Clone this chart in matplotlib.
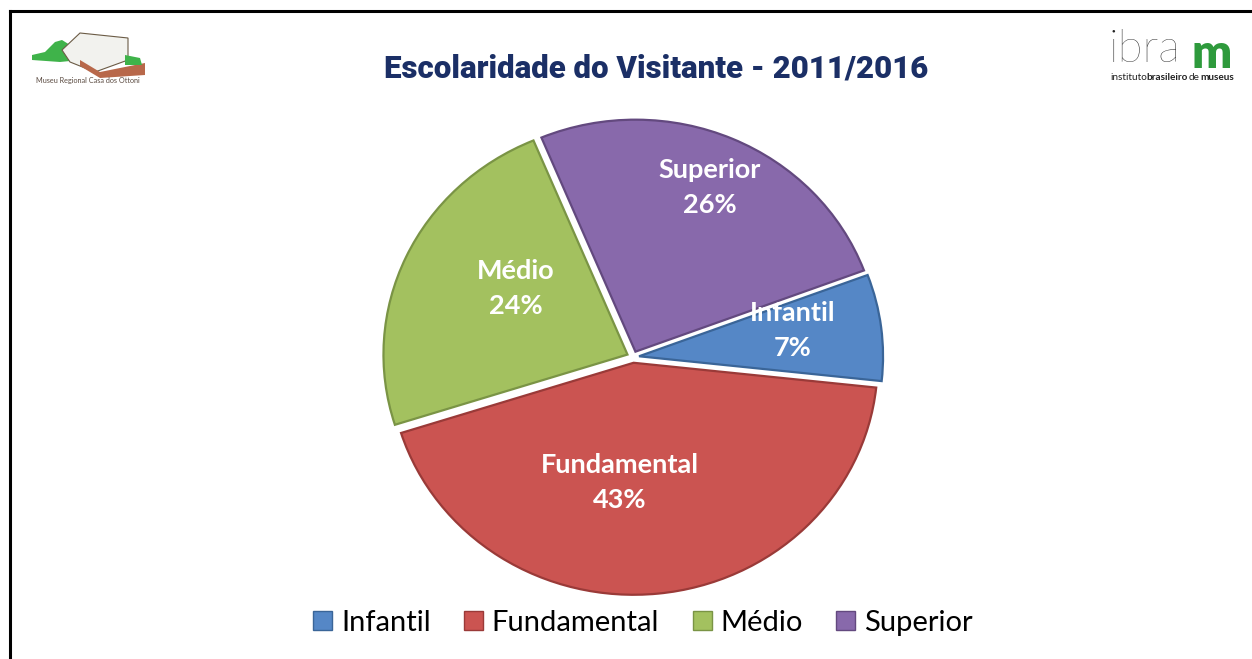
import numpy as np
import matplotlib
matplotlib.use("Agg")
import matplotlib.pyplot as plt
from matplotlib.lines import Line2D
from matplotlib.patches import Patch, Polygon

# ---- data ----
categories = ["Infantil", "Fundamental", "Médio", "Superior"]
shares = [7.4, 43.4, 23.6, 25.6]
colors = ["#5587C6", "#CB5451", "#A3C15F", "#8869AB"]
edge_colors = ["#3A6598", "#9A3A38", "#7A9445", "#63497F"]
title = "Escolaridade do Visitante - 2011/2016"
label_dist = [0.64, 0.52, 0.54, 0.77]
label_rot = [3.0, -12.0, -7.0, 0.0]

W, H = 1252, 659
fig = plt.figure(figsize=(W / 100, H / 100), dpi=100)
fig.patch.set_facecolor("white")

# pie axes
cx, cy = 633, 357
rx, ry = 244, 232
lim = 1.3
aw, ah = 2 * lim * rx, 2 * lim * ry
ax = fig.add_axes([(cx - aw / 2) / W, (H - cy - ah / 2) / H, aw / W, ah / H])

wedges, _ = ax.pie(shares, colors=colors, startangle=20.5, counterclock=False,
                   explode=[0.025] * 4,
                   wedgeprops=dict(linewidth=1.6))
for w, ec in zip(wedges, edge_colors):
    w.set_edgecolor(ec)
ax.set_aspect("auto")
ax.set_xlim(-lim, lim)
ax.set_ylim(-lim, lim)
ax.axis("off")

total = sum(shares)
for w, cat, v, d, rot in zip(wedges, categories, shares, label_dist, label_rot):
    ang = np.deg2rad((w.theta1 + w.theta2) / 2 + rot)
    x0, y0 = w.center
    ax.text(x0 + d * np.cos(ang), y0 + d * np.sin(ang),
            f"{cat}\n{round(v / total * 100):d}%",
            ha="center", va="center", color="white", fontsize=19.5,
            fontweight="bold", family="Lato", linespacing=1.55)

# title
fig.text(656 / W, 1 - 68 / H, title, ha="center", va="center",
         fontsize=22.5, fontweight="heavy", color="#1B2F66", family="Roboto",
         fontstretch="condensed")

# legend
handles = [Patch(facecolor=c, edgecolor=e, linewidth=1.0) for c, e in zip(colors, edge_colors)]
fig.legend(handles, categories, loc="center", bbox_to_anchor=(643 / W, 1 - 623 / H),
           ncol=4, frameon=False, prop=dict(family="Lato", size=21),
           handlelength=0.65, handleheight=0.65, handletextpad=0.3, columnspacing=1.15)

# border lines (left and top)
fig.add_artist(Line2D([9.5 / W, 9.5 / W], [0, 1 - 11 / H], color="black", lw=2.2,
                      transform=fig.transFigure))
fig.add_artist(Line2D([9.5 / W, 1], [1 - 11 / H, 1 - 11 / H], color="black", lw=2.2,
                      transform=fig.transFigure))

# left logo (simplified drawing)
def fp(pts):
    return [(x / W, 1 - y / H) for x, y in pts]

fig.add_artist(Polygon(fp([(32, 55), (45, 52), (55, 42), (62, 40), (70, 45), (80, 60), (60, 62), (32, 60)]),
                       closed=True, facecolor="#3FB34A", edgecolor="none", transform=fig.transFigure))
fig.add_artist(Polygon(fp([(62, 50), (80, 33), (128, 38), (128, 60), (95, 72), (70, 62)]),
                       closed=True, facecolor="#F2F2EE", edgecolor="#6B5B45", lw=0.8, transform=fig.transFigure))
fig.add_artist(Polygon(fp([(80, 60), (100, 72), (145, 63), (145, 75), (100, 78), (80, 66)]),
                       closed=True, facecolor="#B8684A", edgecolor="none", transform=fig.transFigure))
fig.add_artist(Polygon(fp([(125, 55), (140, 58), (142, 65), (125, 65)]),
                       closed=True, facecolor="#3FB34A", edgecolor="none", transform=fig.transFigure))
fig.text(88 / W, 1 - 80 / H, "Museu Regional Casa dos Ottoni", ha="center", va="center",
         fontsize=5.2, color="#5A4A40", family="Lato")

# right logo
fig.text(1108 / W, 1 - 50 / H, "ibra", ha="left", va="center", fontsize=33,
         color="#222222", family="Lato", fontweight="light")
fig.text(1192 / W, 1 - 54 / H, "m", ha="left", va="center", fontsize=34,
         color="#2E9A3C", family="Lato", fontweight="heavy")
fig.text(1110 / W, 1 - 78 / H, "instituto", ha="left", va="center", fontsize=7.2,
         color="#222222", family="Lato")
fig.text(1146 / W, 1 - 78 / H, "brasileiro", ha="left", va="center", fontsize=7.2,
         color="#222222", family="Lato", fontweight="bold")
fig.text(1189 / W, 1 - 78 / H, "de", ha="left", va="center", fontsize=7.2,
         color="#222222", family="Lato")
fig.text(1200 / W, 1 - 78 / H, "museus", ha="left", va="center", fontsize=7.2,
         color="#222222", family="Lato", fontweight="bold")

fig.savefig("out.png", dpi=100, facecolor="white")
